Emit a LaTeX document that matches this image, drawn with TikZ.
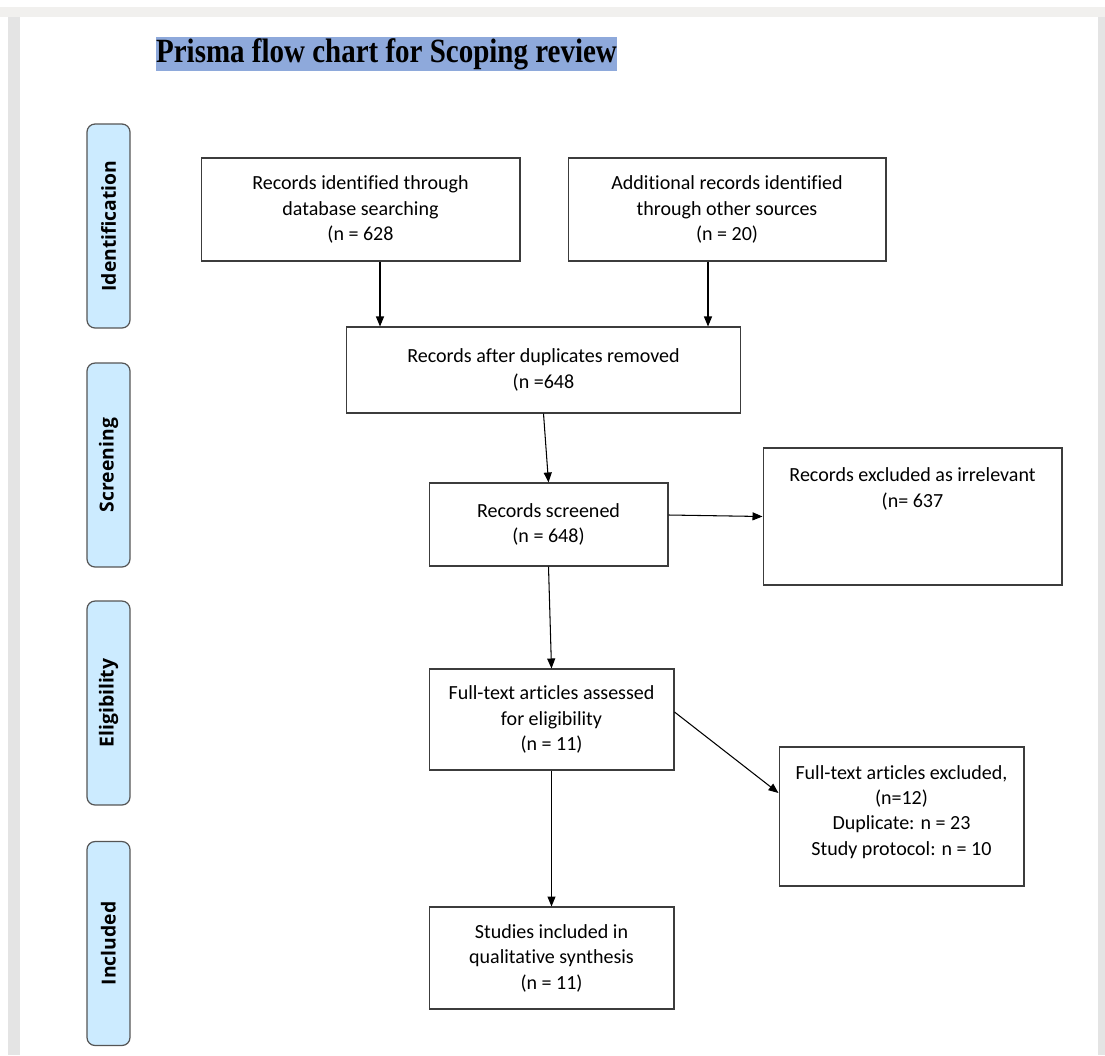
\documentclass[tikz,border=0pt]{standalone}
\usepackage{fontspec}
\setmainfont{Carlito}[Ligatures=NoCommon]
\newfontfamily\titlefont{Liberation Serif}
\newfontfamily\phasefont{Open Sans}
\usepackage{xcolor}
\usepackage{tikz}
\usetikzlibrary{arrows.meta}
\definecolor{pageGray}{RGB}{228, 228, 228}
\definecolor{ribbonGray}{RGB}{241, 240, 238}
\definecolor{titleHighlight}{RGB}{142, 169, 219}
\definecolor{phaseFill}{RGB}{204, 235, 255}
\definecolor{phaseBorder}{RGB}{85, 85, 85}
\definecolor{boxBorder}{RGB}{60, 60, 60}

\tikzset{
  flowbox/.style={draw=boxBorder, line width=0.6pt, align=center, inner sep=2pt,
    font=\fontsize{11.4}{14.5}\selectfont},
  phasebar/.style={draw=phaseBorder, fill=phaseFill, line width=0.7pt, rounded corners=0.16cm,
    minimum width=4.08cm, minimum height=0.86cm, rotate=90,
    font=\phasefont\bfseries\fontsize{11}{13}\selectfont},
  flowarrow/.style={-{Triangle[length=2mm,width=1.6mm]}, line width=0.6pt}
}

\begin{document}
\begin{tikzpicture}[x=0.02cm, y=-0.02cm]
  \useasboundingbox (0,0) rectangle (1105,1055);
  % Page background
  \fill[white] (0,0) rectangle (1105,1055);
  \fill[ribbonGray] (0,7) rectangle (1105,17);
  \fill[pageGray] (8,17) rectangle (20,1055);
  \fill[pageGray] (1098,17) rectangle (1105,1055);

  % Title
  \node[fill=titleHighlight, inner sep=0pt, minimum width=9.22cm, minimum height=0.68cm,
    font=\titlefont\bfseries\fontsize{16.5}{18}\selectfont] (title) at (386.5,54)
    {\scalebox{1}[1.17]{Prisma flow chart for Scoping review}};

  % Phase bars
  \node[phasebar] (identification) at (108.5,226) {Identification};
  \node[phasebar] (screening) at (108.5,465) {Screening};
  \node[phasebar] (eligibility) at (108.5,703) {Eligibility};
  \node[phasebar] (included) at (108.5,943.5) {Included};

  % Boxes
  \node[flowbox, minimum width=6.38cm, minimum height=2.06cm] (database) at (360.5,209.5)
    {Records identified through\\database searching\\(n = 628};
  \node[flowbox, minimum width=6.36cm, minimum height=2.06cm] (other) at (727,209.5)
    {Additional records identified\\through other sources\\(n = 20)};
  \node[flowbox, minimum width=7.9cm, minimum height=1.72cm] (dedup) at (543.5,370)
    {Records after duplicates removed\\(n =648};
  \node[flowbox, minimum width=4.78cm, minimum height=1.66cm] (screened) at (548.5,524.5)
    {Records screened\\(n = 648)};
  \node[flowbox, minimum width=5.98cm, minimum height=2.74cm] (irrelevant) at (912.5,516.5)
    {Records excluded as irrelevant\\(n= 637\\[0.64cm]};
  \node[flowbox, minimum width=4.9cm, minimum height=2.02cm] (fulltext) at (551.5,719.5)
    {Full-text articles assessed\\for eligibility\\(n = 11)};
  \node[flowbox, minimum width=4.9cm, minimum height=2.78cm] (ftexcluded) at (901.5,816.5)
    {Full-text articles excluded,\\(n=12)\\Duplicate: n = 23\\Study protocol: n = 10\\[-0.26cm]};
  \node[flowbox, minimum width=4.9cm, minimum height=2.04cm] (studies) at (551.5,958)
    {Studies included in\\qualitative synthesis\\(n = 11)};

  % Arrows
  \draw[flowarrow] (database.south -| 380,0) -- (dedup.north -| 380,0);
  \draw[flowarrow] (other.south -| 708,0) -- (dedup.north -| 708,0);
  \draw[flowarrow] (dedup.south) -- (screened.north);
  \draw[flowarrow] ([yshift=0.19cm]screened.east) -- (irrelevant.west);
  \draw[flowarrow] (screened.south) -- (fulltext.north);
  \draw[flowarrow] ([yshift=0.15cm]fulltext.east) -- ([yshift=0.47cm]ftexcluded.west);
  \draw[flowarrow] (fulltext.south) -- (studies.north);
\end{tikzpicture}
\end{document}
